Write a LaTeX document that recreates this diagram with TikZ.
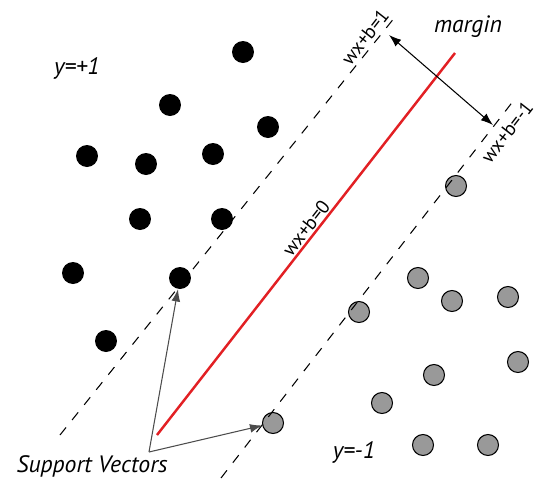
\documentclass[tikz,border=0pt]{standalone}
\usepackage{fontspec}
\setmainfont{PT Sans}
\usetikzlibrary{arrows.meta}
\definecolor{hyperred}{RGB}{226,32,36}
\begin{document}
\begin{tikzpicture}[x=0.02cm, y=-0.02cm,
  every node/.style={font=\fontsize{13.5}{16}\selectfont\itshape},
  posdot/.style={circle, fill=black, inner sep=0pt, minimum size=0.44cm},
  negdot/.style={circle, draw=black, line width=0.6pt, fill=black!40, inner sep=0pt, minimum size=0.42cm},
  bound/.style={dash pattern=on 5.5pt off 5.5pt, line width=0.6pt},
  eqn/.style={font=\fontsize{11}{13}\selectfont, rotate=52, inner sep=0pt},
  pointer/.style={-{Latex[length=7pt,width=5pt]}, draw=black!70, line width=0.6pt}]
\useasboundingbox (0,0) rectangle (535,491);
% class y=+1
\foreach \px/\py [count=\i] in {243/52, 170/105, 268/127, 87/156, 146/164, 213/154,
    140/219, 222/219, 73/273, 180/278, 106/341}
  \node[posdot] (p\i) at (\px,\py) {};
% class y=-1
\foreach \px/\py [count=\i] in {456/186, 418/278, 452/301, 508/297, 359/312, 518/362,
    434/375, 382/403, 273/423, 423/445, 488/445}
  \node[negdot] (n\i) at (\px,\py) {};
% hyperplane and margins
\draw[bound] (60,435) -- (395,17);
\draw[bound] (221,478) -- (514,100);
\draw[hyperred, line width=1.4pt] (157,435) -- (455,53);
\node[eqn] (h1) at (365,37) {wx+b=1};
\node[eqn] (h0) at (306,228) {wx+b=0};
\node[eqn] (hm) at (507,132) {wx+b=-1};
% margin
\coordinate (mtop) at (389,35);
\coordinate (mbot) at (493,125);
\draw[{Latex[length=7pt,width=5pt]}-{Latex[length=7pt,width=5pt]}, line width=0.6pt] (mtop) -- (mbot);
\node (margin) at (468,27) {margin};
% class labels
\node (ypos) at (77,68) {y=+1};
\node (yneg) at (354,452) {y=-1};
% support vectors
\node (sv) at (92,466) {Support Vectors};
\coordinate (svfoot) at (149,452);
\draw[pointer] (svfoot) -- (p10);
\draw[pointer] (svfoot) -- (n9);
\end{tikzpicture}
\end{document}
